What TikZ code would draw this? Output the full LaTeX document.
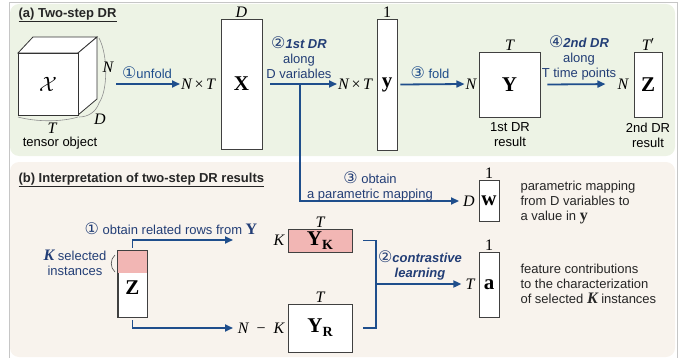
\documentclass[tikz,border=0pt]{standalone}
\usepackage[no-math]{fontspec}
\setmainfont{Liberation Sans}
\newfontfamily\circfont{DejaVu Sans}
\newfontfamily\timesfont{Liberation Serif}
\usetikzlibrary{positioning,calc,arrows.meta}

\definecolor{drblue}{RGB}{31,78,140}
\definecolor{drtext}{RGB}{35,62,118}
\definecolor{panelA}{RGB}{237,243,229}
\definecolor{panelB}{RGB}{248,243,237}
\definecolor{selpink}{RGB}{242,182,180}

\newcommand{\circnum}[1]{{\circfont\fontsize{16}{16}\selectfont #1}}
\newcommand{\mv}[1]{{\timesfont\itshape #1}}
\newcommand{\mb}[1]{{\timesfont\bfseries #1}}
\newcommand{\sub}[1]{\raisebox{-4pt}{\fontsize{14}{14}\selectfont\mb{#1}}}

\tikzset{
  matbox/.style={draw=black!75, fill=white, line width=0.9pt, inner sep=0pt, font=\fontsize{21}{22}\selectfont},
  flow/.style={draw=drblue, line width=1.8pt, -{Triangle[length=8pt,width=7pt]}},
  flowline/.style={draw=drblue, line width=1.8pt},
  dimlbl/.style={inner sep=1pt, font=\fontsize{16}{16}\selectfont},
  steplbl/.style={text=drtext, align=center},
  note/.style={align=left, anchor=west, text=black!85},
  paneltitle/.style={anchor=west, font=\fontsize{13}{15}\selectfont\bfseries, text=black!85},
}

\begin{document}
\begin{tikzpicture}[x=1pt, y=-1pt, every node/.style={font=\fontsize{13}{15}\selectfont}]
  \useasboundingbox (0,0) rectangle (684,358);

  % Panels
  \draw[gray!45, line width=0.6pt] (9,2) rectangle (677,362);
  \fill[panelA, rounded corners=9pt] (10,4) rectangle (675,156);
  \fill[panelB, rounded corners=9pt] (10,162) rectangle (675,357);
  \node[paneltitle] (titleA) at (15,15) {\underline{(a) Two-step DR}};
  \node[paneltitle] (titleB) at (15,180) {\underline{(b) Interpretation of two-step DR results}};

  % Tensor cube
  \filldraw[fill=white, draw=black!80, line width=0.8pt] (18,53) -- (33,37) -- (97,37) -- (78,53) -- cycle;
  \filldraw[fill=white, draw=black!80, line width=0.8pt] (78,53) -- (97,37) -- (97,99) -- (78,115) -- cycle;
  \filldraw[fill=white, draw=black!80, line width=0.8pt] (18,53) rectangle (78,115);
  \node (cubeX) at (48,84) {\fontsize{20}{22}\selectfont$\mathcal{X}$};
  \draw[black!45, line width=0.6pt] (99,38) .. controls (108,55) and (108,90) .. (99,103);
  \draw[black!45, line width=0.6pt] (99,103) .. controls (96,112) and (88,117) .. (79,117);
  \draw[black!45, line width=0.6pt] (18,117) .. controls (36,122) and (62,122) .. (78,117);
  \node[dimlbl] (cubeN) at (108,67) {\mv{N}};
  \node[dimlbl] (cubeD) at (100,119) {\mv{D}};
  \node[dimlbl] (cubeT) at (52,128) {\mv{T}};
  \node (tensor) at (60,143) {tensor object};

  % Step 1: unfold
  \coordinate (cubeR) at (116,84);
  \node[dimlbl, anchor=west] (nt1) at (180,84) {\mv{N}\,{\timesfont×}\,\mv{T}};
  \draw[flow] (cubeR) -- (nt1.west);
  \node[steplbl, text=drblue] (unfold) at (147,73) {\circnum{①}unfold};

  \node[matbox, minimum width=41pt, minimum height=130pt] (Xmat) at (241.5,84) {\mb{X}};
  \node[dimlbl, above=0pt of Xmat] (XD) {\mv{D}};

  % Step 2: 1st DR
  \node[dimlbl, anchor=west] (nt2) at (337,84) {\mv{N}\,{\timesfont×}\,\mv{T}};
  \draw[flow] ($(Xmat.east)+(8,0)$) -- (nt2.west);
  \node[steplbl] (dr1) at (299,58) {\circnum{②}{\bfseries\itshape 1st DR}\\along\\D variables};

  \node[matbox, minimum width=20pt, minimum height=131pt] (ymat) at (387,84.5) {\mb{y}};
  \node[dimlbl, above=0pt of ymat] (yone) {\timesfont 1};

  % Step 3: fold
  \node[dimlbl] (yN) at (471,84) {\mv{N}};
  \draw[flow] ($(ymat.east)+(3,0)$) -- (yN.west);
  \node[steplbl, text=drblue] (fold) at (430,73) {\circnum{③} fold};

  \node[matbox, minimum width=61pt, minimum height=65pt] (Ymat) at (509.5,84.5) {\mb{Y}};
  \node[dimlbl, above=0pt of Ymat] (YT) {\mv{T}};
  \node[align=center] (res1) at (510,135) {1st DR\\result};

  % Step 4: 2nd DR
  \node[dimlbl] (zN) at (623,84) {\mv{N}};
  \draw[flow, shorten >=11pt] ($(Ymat.east)+(7,0)$) -- (zN.west);
  \node[steplbl] (dr2) at (579,58) {\circnum{④}{\bfseries\itshape 2nd DR}\\along\\T time points};

  \node[matbox, minimum width=28pt, minimum height=65pt] (Zmat) at (648,84.5) {\mb{Z}};
  \node[dimlbl, above=0pt of Zmat] (ZT) {\mv{T}$'$};
  \node[align=center] (res2) at (648,135) {2nd DR\\result};

  % (b) parametric mapping
  \node[matbox, minimum width=20pt, minimum height=41pt] (wmat) at (489,200.5) {\mb{w}};
  \node[dimlbl, above=0pt of wmat] (wone) {\timesfont 1};
  \node[dimlbl] (wD) at (469,201) {\mv{D}};
  \coordinate (branch) at (300,84);
  \draw[flow, shorten >=3pt] (branch) |- (wD.west);
  \node[steplbl] (obtain) at (370,186) {\circnum{③} obtain\\a parametric mapping};
  \node[note] (wnote) at (517,203) {parametric mapping\\from D variables to\\a value in {\fontsize{16}{15}\selectfont\mb{y}}};

  % selected instances
  \node[matbox, minimum width=29pt, minimum height=66pt] (Zsel) at (132.5,284) {};
  \fill[selpink] (Zsel.north west) rectangle ($(Zsel.north east)+(0,22)$);
  \draw[black!75, line width=0.9pt] (Zsel.north west) rectangle (Zsel.south east);
  \node[font=\fontsize{21}{22}\selectfont] (zlbl) at (132.5,288) {\mb{Z}};
  \draw[black!70, line width=0.6pt] (115,255) .. controls (110,259) and (110,268) .. (115,272);
  \node[steplbl] (ksel) at (75,263) {{\fontsize{16}{15}\selectfont\mv{\bfseries K}} selected\\instances};

  % Step 1: related rows
  \coordinate (toK) at (233,240);
  \coordinate (toR) at (233,328);
  \draw[flow] ([yshift=3pt]Zsel.north) |- (toK);
  \draw[flow] ([yshift=-3pt]Zsel.south) |- (toR);
  \node[steplbl] (rows) at (171,229) {\circnum{①} obtain related rows from {\fontsize{16}{15}\selectfont\mb{Y}}};

  \node[matbox, fill=selpink, minimum width=64pt, minimum height=23pt] (YK) at (320,240.5) {\mb{Y}\sub{K}};
  \node[dimlbl, above=0pt of YK] (YKT) {\mv{T}};
  \node[dimlbl, left=2pt of YK] (YKK) {\mv{K}};
  \node[matbox, minimum width=64pt, minimum height=48pt] (YR) at (320,328) {\mb{Y}\sub{R}};
  \node[dimlbl, above=0pt of YR] (YRT) {\mv{T}};
  \node[dimlbl, left=2pt of YR] (YRK) {\mv{N}\enspace{\timesfont −}\enspace\mv{K}};

  % Step 2: contrastive learning
  \coordinate (join) at (376,284);
  \draw[flowline] ($(YK.east)+(11,0)$) -| (join) |- ($(YR.east)+(11,0)$);
  \node[matbox, minimum width=20pt, minimum height=65pt] (amat) at (489,284.5) {\mb{a}};
  \node[dimlbl, above=0pt of amat] (aone) {\timesfont 1};
  \node[dimlbl] (aT) at (470,284) {\mv{T}};
  \draw[flow, shorten >=3pt] (join) -- (aT.west);
  \node[steplbl] (contr) at (420,265) {\circnum{②}{\bfseries\itshape contrastive}\\{\bfseries\itshape learning}};
  \node[note] (anote) at (517,284) {feature contributions\\to the characterization\\of selected {\fontsize{16}{15}\selectfont\mv{\bfseries K}} instances};
\end{tikzpicture}
\end{document}
